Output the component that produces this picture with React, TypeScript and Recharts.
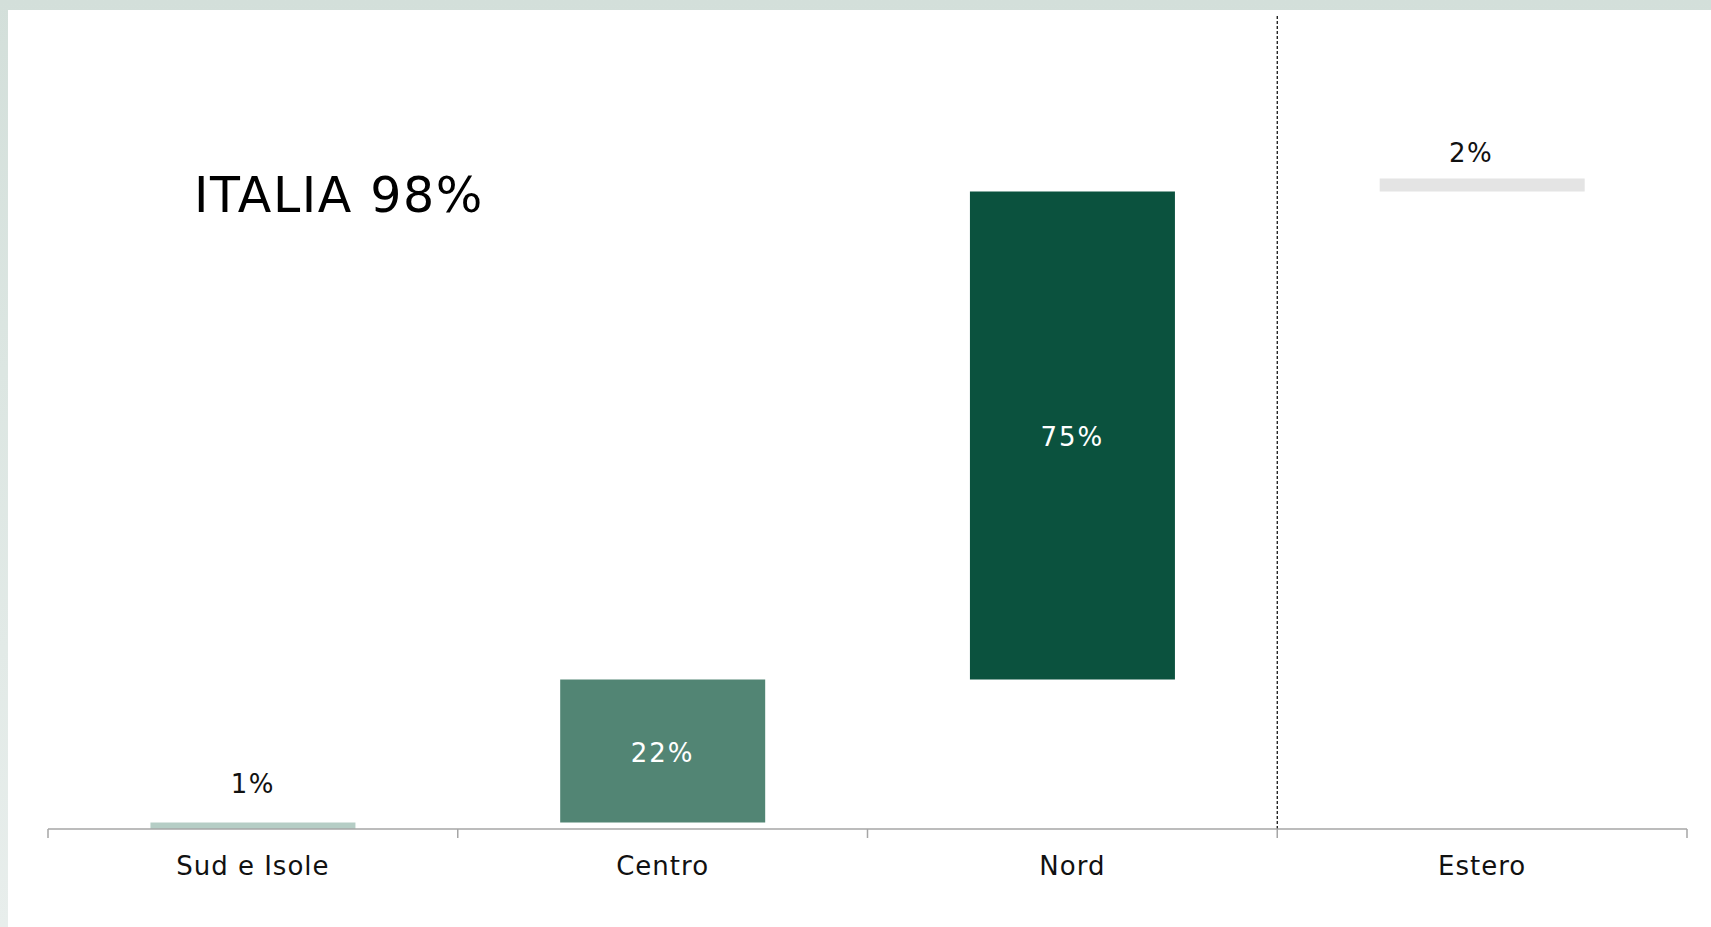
import React from "react";
import {
  BarChart,
  Bar,
  XAxis,
  YAxis,
  Cell,
  LabelList,
  ReferenceLine,
} from "recharts";

// quote per area geografica (waterfall)
const categories = ["Sud e Isole", "Centro", "Nord", "Estero"];
const shares = [1, 22, 75, 2];
const italyTotal = 98;
const barColors = ["#b5cdc5", "#528574", "#0b523e", "#e4e4e4"];

const bases = shares.map((_, i) =>
  shares.slice(0, i).reduce((a, b) => a + b, 0)
);
const data = categories.map((name, i) => ({
  name,
  base: bases[i],
  value: shares[i],
}));

const FONT = "'DejaVu Sans', Verdana, sans-serif";
const TICK_MARGIN = 46;
const AXIS_COLOR = "#a6a6a6";

// small bars get the label above them, big ones inside in white
const labelAbove: Record<number, { gap: number; dx: number }> = {
  0: { gap: 29, dx: 0 },
  3: { gap: 17, dx: -11 },
};

const CategoryTick = (props: any) => {
  const { x, y, payload, index } = props;
  const half = payload?.offset ?? 0;
  const axisY = y - TICK_MARGIN;
  const isLast = index === categories.length - 1;
  return (
    <g>
      <line
        x1={x - half}
        x2={x - half}
        y1={axisY}
        y2={axisY + 9}
        stroke={AXIS_COLOR}
        strokeWidth={1.5}
      />
      {isLast && (
        <line
          x1={x + half}
          x2={x + half}
          y1={axisY}
          y2={axisY + 9}
          stroke={AXIS_COLOR}
          strokeWidth={1.5}
        />
      )}
      <text
        x={x}
        y={y}
        textAnchor="middle"
        fontSize={26}
        fontFamily={FONT}
        letterSpacing={1}
        fill="#111"
      >
        {payload.value}
      </text>
    </g>
  );
};

const ValueLabel = (props: any) => {
  const { x, y, width, height, index } = props;
  const text = `${shares[index]}%`;
  const above = labelAbove[index];
  if (above) {
    return (
      <text
        x={x + width / 2 + above.dx}
        y={y - above.gap}
        textAnchor="middle"
        fontSize={26}
        fontFamily={FONT}
        letterSpacing={1.5}
        fill="#111"
      >
        {text}
      </text>
    );
  }
  return (
    <text
      x={x + width / 2}
      y={y + height / 2}
      dy={2}
      textAnchor="middle"
      dominantBaseline="central"
      fontSize={26}
      fontFamily={FONT}
      letterSpacing={2}
      fill="#ffffff"
    >
      {text}
    </text>
  );
};

export default function App() {
  return (
    <div
      style={{
        position: "absolute",
        left: 0,
        top: 0,
        width: 1711,
        height: 927,
        overflow: "hidden",
        background:
          "linear-gradient(180deg, #d3dfda 0%, #dce6e2 40%, #e8eeec 100%)",
      }}
    >
      <div
        style={{
          position: "absolute",
          left: 8,
          top: 10,
          right: 0,
          bottom: 0,
          background: "#ffffff",
        }}
      />
      <div style={{ position: "absolute", left: 0, top: 0 }}>
        <BarChart
          width={1711}
          height={927}
          data={data}
          margin={{ top: 14, right: 24, bottom: 38, left: 48 }}
          barCategoryGap="25%"
        >
          <XAxis
            dataKey="name"
            interval={0}
            height={60}
            tickLine={false}
            tickSize={0}
            tickMargin={TICK_MARGIN}
            axisLine={{ stroke: AXIS_COLOR, strokeWidth: 1.5 }}
            tick={<CategoryTick />}
          />
          <YAxis hide domain={[0, 125.3]} />
          <ReferenceLine
            x="Estero"
            position="start"
            stroke="#000"
            strokeWidth={1.2}
            strokeDasharray="3 2"
          />
          <Bar
            dataKey="base"
            stackId="w"
            fill="transparent"
            isAnimationActive={false}
          />
          <Bar dataKey="value" stackId="w" isAnimationActive={false}>
            {data.map((d, i) => (
              <Cell key={d.name} fill={barColors[i]} />
            ))}
            <LabelList dataKey="value" content={<ValueLabel />} />
          </Bar>
        </BarChart>
      </div>
      <div
        style={{
          position: "absolute",
          left: 194,
          top: 171,
          fontFamily: FONT,
          fontSize: 49,
          lineHeight: "49px",
          letterSpacing: 1.6,
          color: "#000",
          whiteSpace: "nowrap",
        }}
      >
        ITALIA {italyTotal}%
      </div>
    </div>
  );
}
